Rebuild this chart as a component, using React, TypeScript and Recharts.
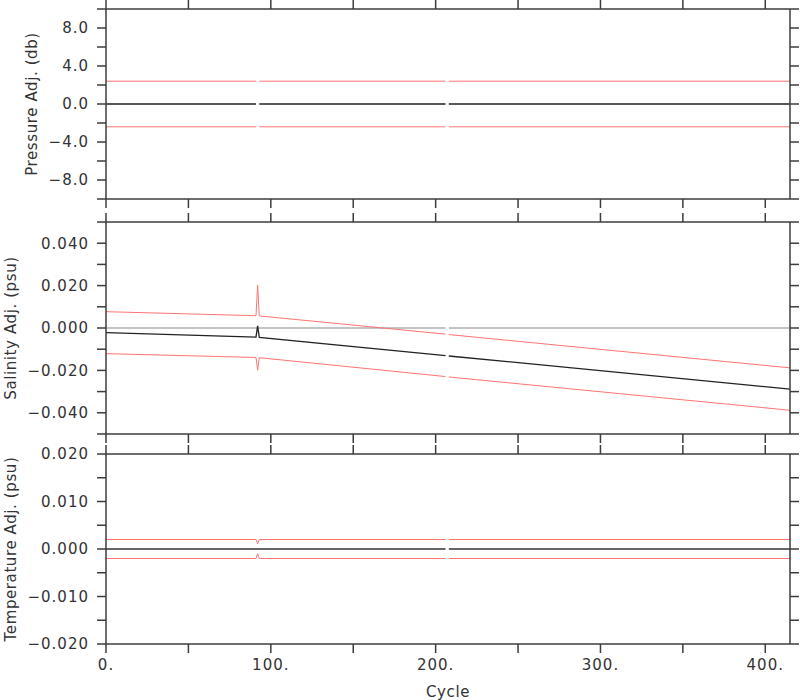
import { LineChart, Line, XAxis, YAxis } from 'recharts';

// cycle positions shared by every series; nulls mark the missing cycles
const CYCLES = [0, 91, 92, 93, 206, 207, 208, 415];

const PRES_ADJ = [0, 0, null, 0, 0, null, 0, 0];
const PRES_UPPER = [2.4, 2.4, null, 2.4, 2.4, null, 2.4, 2.4];
const PRES_LOWER = [-2.4, -2.4, null, -2.4, -2.4, null, -2.4, -2.4];

const SAL_ZERO = [0, 0, 0, 0, 0, null, 0, 0];
const SAL_ADJ = [-0.0022, -0.0043, 0.001, -0.0044, -0.013, null, -0.0132, -0.0288];
const SAL_UPPER = [0.0077, 0.0058, 0.0203, 0.0057, -0.0029, null, -0.0031, -0.0188];
const SAL_LOWER = [-0.0121, -0.0139, -0.0199, -0.014, -0.0229, null, -0.0231, -0.0388];

const TEMP_ADJ = [0, 0, 0, 0, 0, null, 0, 0];
const TEMP_UPPER = [0.002, 0.002, 0.0011, 0.002, 0.002, null, 0.002, 0.002];
const TEMP_LOWER = [-0.002, -0.002, -0.001, -0.002, -0.002, null, -0.002, -0.002];

const CYCLE_TICKS = [0, 50, 100, 150, 200, 250, 300, 350, 400];
const CYCLE_LABELED = [0, 100, 200, 300, 400];

const PRES_TICKS = [-10, -8, -6, -4, -2, 0, 2, 4, 6, 8, 10];
const PRES_LABELED = [-8, -4, 0, 4, 8];
const SAL_TICKS = [-0.05, -0.04, -0.03, -0.02, -0.01, 0, 0.01, 0.02, 0.03, 0.04, 0.05];
const SAL_LABELED = [-0.04, -0.02, 0, 0.02, 0.04];
const TEMP_TICKS = [-0.02, -0.015, -0.01, -0.005, 0, 0.005, 0.01, 0.015, 0.02];
const TEMP_LABELED = [-0.02, -0.01, 0, 0.01, 0.02];

const FONT = 'DejaVu Sans';
const AXIS = '#3c3c3c';
const RED = '#ff7373';

const rows = (vals: (number | null)[]) => CYCLES.map((c, i) => ({ c, v: vals[i] }));

const fmt = (labeled: number[], digits: number) => (v: number) => {
  if (!labeled.some((l) => Math.abs(l - v) < 1e-9)) return '';
  const s = Math.abs(v).toFixed(digits);
  return v < -1e-12 ? '\u2212' + s : s;
};

interface Series {
  vals: (number | null)[];
  color: string;
  width: number;
}

interface PanelProps {
  top: number; // plot top (page px)
  bottom: number; // plot bottom
  domain: [number, number];
  ticks: number[];
  tickFmt: (v: number) => string;
  label: string;
  labelX: number;
  series: Series[];
  showX?: boolean;
}

const tickStyle = { fontFamily: FONT, fontSize: 15, fill: '#333', letterSpacing: 1 };
const labelStyle = { fontFamily: FONT, fontSize: 15, fill: '#333', letterSpacing: 0.6 };

function Panel({ top, bottom, domain, ticks, tickFmt, label, labelX, series, showX }: PanelProps) {
  const xHeight = showX ? 56 : 10;
  const axisStyle = { stroke: AXIS, strokeWidth: 1.5 };
  return (
    <div style={{ position: 'absolute', left: 0, top: 0 }}>
      <LineChart
        width={800}
        height={700}
        margin={{ top: top - 10, right: 0, bottom: 700 - bottom - xHeight, left: 0 }}
      >
        <XAxis
          type="number"
          dataKey="c"
          domain={[0, 415]}
          allowDataOverflow
          ticks={CYCLE_TICKS}
          interval={0}
          height={xHeight}
          tickSize={9}
          tickMargin={6}
          axisLine={axisStyle}
          tickLine={axisStyle}
          tickFormatter={(v: number) => (showX && CYCLE_LABELED.includes(v) ? `${v}.` : '')}
          tick={tickStyle}
          label={
            showX
              ? { value: 'Cycle', position: 'insideBottom', offset: 3, style: labelStyle }
              : undefined
          }
        />
        <XAxis
          xAxisId="top"
          orientation="top"
          type="number"
          dataKey="c"
          domain={[0, 415]}
          allowDataOverflow
          ticks={CYCLE_TICKS}
          interval={0}
          height={10}
          tickSize={9}
          axisLine={axisStyle}
          tickLine={axisStyle}
          tickFormatter={() => ''}
        />
        <YAxis
          type="number"
          domain={domain}
          allowDataOverflow
          ticks={ticks}
          interval={0}
          width={106}
          tickSize={9}
          tickMargin={8}
          axisLine={axisStyle}
          tickLine={axisStyle}
          tickFormatter={tickFmt}
          tick={tickStyle}
          label={{
            value: label,
            angle: -90,
            position: 'insideLeft',
            offset: labelX,
            style: { ...labelStyle, textAnchor: 'middle' },
          }}
        />
        <YAxis
          yAxisId="r"
          orientation="right"
          type="number"
          domain={domain}
          allowDataOverflow
          ticks={ticks}
          interval={0}
          width={10}
          tickSize={9}
          axisLine={axisStyle}
          tickLine={axisStyle}
          tickFormatter={() => ''}
        />
        {series.map((s, i) => (
          <Line
            key={i}
            data={rows(s.vals)}
            dataKey="v"
            stroke={s.color}
            strokeWidth={s.width}
            dot={false}
            activeDot={false}
            connectNulls={false}
            isAnimationActive={false}
          />
        ))}
      </LineChart>
    </div>
  );
}

export default function App() {
  return (
    <div style={{ position: 'absolute', left: 0, top: 0, width: 800, height: 700, background: '#fff' }}>
      <Panel
        top={9}
        bottom={199}
        domain={[-10, 10]}
        ticks={PRES_TICKS}
        tickFmt={fmt(PRES_LABELED, 1)}
        label="Pressure Adj. (db)"
        labelX={32}
        series={[
          { vals: PRES_UPPER, color: RED, width: 1 },
          { vals: PRES_LOWER, color: RED, width: 1 },
          { vals: PRES_ADJ, color: '#222', width: 1.5 },
        ]}
      />
      <Panel
        top={222}
        bottom={434}
        domain={[-0.05, 0.05]}
        ticks={SAL_TICKS}
        tickFmt={fmt(SAL_LABELED, 3)}
        label="Salinity Adj. (psu)"
        labelX={11}
        series={[
          { vals: SAL_ZERO, color: '#c4c4c4', width: 2 },
          { vals: SAL_UPPER, color: RED, width: 1 },
          { vals: SAL_LOWER, color: RED, width: 1 },
          { vals: SAL_ADJ, color: '#222', width: 1.3 },
        ]}
      />
      <Panel
        top={454}
        bottom={644}
        domain={[-0.02, 0.02]}
        ticks={TEMP_TICKS}
        tickFmt={fmt(TEMP_LABELED, 3)}
        label="Temperature Adj. (psu)"
        labelX={11}
        showX
        series={[
          { vals: TEMP_UPPER, color: RED, width: 1 },
          { vals: TEMP_LOWER, color: RED, width: 1 },
          { vals: TEMP_ADJ, color: '#666', width: 2 },
        ]}
      />
    </div>
  );
}
